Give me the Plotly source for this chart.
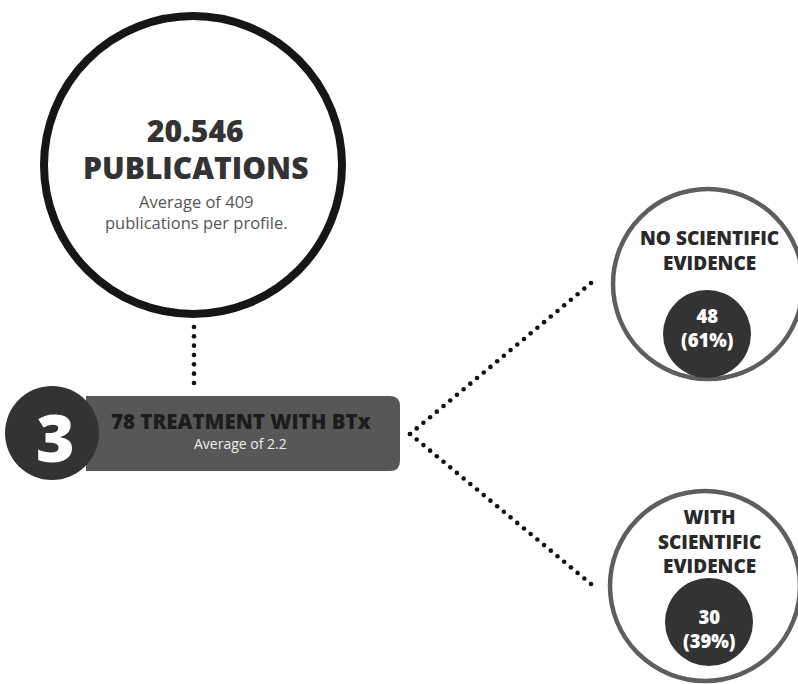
import numpy as np
import plotly.graph_objects as go

# ---- data ----
total_publications = "20.546"
avg_publications_per_profile = 409
step_number = 3
treatments_with_btx = 78
avg_treatments = 2.2
evidence_labels = [["NO SCIENTIFIC", "EVIDENCE"], ["WITH", "SCIENTIFIC", "EVIDENCE"]]
evidence_counts = [48, 30]
evidence_pct = [61, 39]

W, H = 798, 684
FONT = "Open Sans"

fig = go.Figure()
shapes = []
ann = []

def dots(p0, p1, spacing):
    p0, p1 = np.array(p0, float), np.array(p1, float)
    n = int(round(np.linalg.norm(p1 - p0) / spacing))
    t = np.linspace(0, 1, n + 1)
    pts = p0[None, :] + t[:, None] * (p1 - p0)[None, :]
    return pts[:, 0], pts[:, 1]

# dotted connectors
for (a, b, sp) in [((194, 327), (194, 383), 9.3),
                   ((410, 434), (591, 283), 8.6),
                   ((410, 434), (591, 584), 8.6)]:
    xs, ys = dots(a, b, sp)
    fig.add_trace(go.Scatter(x=xs, y=ys, mode="markers",
                             marker=dict(size=4.6, color="#111111"),
                             hoverinfo="skip", showlegend=False))

def bold(size, color):
    return dict(size=size, color=color, family=FONT, weight=800)

# big circle
cx, cy, r = 193, 165, 149
shapes.append(dict(type="circle", x0=cx - r, x1=cx + r, y0=cy - r, y1=cy + r,
                   line=dict(color="#161616", width=8), fillcolor="white", layer="below"))
ann.append(dict(x=cx + 2, y=130, text=f"{total_publications}", font=bold(30, "#333333")))
ann.append(dict(x=cx + 2, y=167, text="PUBLICATIONS", font=bold(30, "#333333")))
ann.append(dict(x=cx + 3, y=212,
                text=f"Average of {avg_publications_per_profile}<br>publications per profile.",
                font=dict(size=16.5, color="#555555", family=FONT)))

# treatment bar (rounded right corners)
x0, x1, y0, y1, rr = 86, 400, 396, 471, 10
path = (f"M {x0},{y0} L {x1-rr},{y0} Q {x1},{y0} {x1},{y0+rr} "
        f"L {x1},{y1-rr} Q {x1},{y1} {x1-rr},{y1} L {x0},{y1} Z")
shapes.append(dict(type="path", path=path, line=dict(width=0),
                   fillcolor="#575757", layer="below"))
shapes.append(dict(type="circle", x0=5, x1=99, y0=386, y1=480,
                   line=dict(width=0), fillcolor="#333333", layer="below"))
ann.append(dict(x=55, y=436, text=f"{step_number}", font=bold(66, "white")))
ann.append(dict(x=241, y=421, text=f"{treatments_with_btx} TREATMENT WITH BTx",
                font=bold(20.5, "#1c1c1c")))
ann.append(dict(x=240, y=443, text=f"Average of {avg_treatments}",
                font=dict(size=14, color="#eeeeee", family=FONT)))

# evidence circles
centers = [(708, 284), (705, 586)]
inner = [(707, 334, 44), (709, 622, 44)]
label_yc = [250, 541]
value_yc = [327, 628]
for i in range(2):
    ox, oy = centers[i]
    R = 95
    shapes.append(dict(type="circle", x0=ox - R, x1=ox + R, y0=oy - R, y1=oy + R,
                       line=dict(color="#5e5e5e", width=4.5), fillcolor="white", layer="below"))
    ix, iy, ir = inner[i]
    shapes.append(dict(type="circle", x0=ix - ir, x1=ix + ir, y0=iy - ir, y1=iy + ir,
                       line=dict(width=0), fillcolor="#333333", layer="below"))
    ann.append(dict(x=709, y=label_yc[i], text="<br>".join(evidence_labels[i]),
                    font=bold(19, "#2a2a2a")))
    ann.append(dict(x=ix, y=value_yc[i],
                    text=f"{evidence_counts[i]}<br>({evidence_pct[i]}%)",
                    font=bold(18.5, "white")))

for a in ann:
    a.update(xref="x", yref="y", showarrow=False, xanchor="center", yanchor="middle")

fig.update_layout(
    width=W, height=H, margin=dict(l=0, r=0, t=0, b=0),
    paper_bgcolor="white", plot_bgcolor="white",
    xaxis=dict(range=[0, W], visible=False, fixedrange=True),
    yaxis=dict(range=[H, 0], visible=False, fixedrange=True),
    shapes=shapes, annotations=ann, showlegend=False,
)
fig.write_html("out.html", config={"displayModeBar": False},
               post_script="document.body.style.margin='0';document.body.style.overflow='hidden';")
